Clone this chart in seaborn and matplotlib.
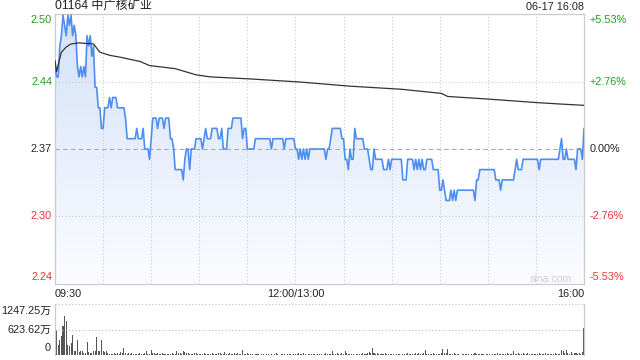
import numpy as np
import pandas as pd
import matplotlib
matplotlib.use("Agg")
import matplotlib.pyplot as plt
import seaborn as sns
from matplotlib.colors import LinearSegmentedColormap
from matplotlib.patches import Polygon

# ---------------- data ----------------
title = "01164 中广核矿业"
stamp = "06-17 16:08"
prev_close = 2.37
pct_levels = [5.53, 2.76, 0.00, -2.76, -5.53]
time_labels = ["09:30", "12:00/13:00", "16:00"]
time_label_minutes = [0, 150, 330]
vol_max = 1247.25
vol_tick_labels = ["1247.25万", "623.62万", "0"]

price = [
    2.45, 2.44, 2.44, 2.47, 2.48, 2.50, 2.49, 2.48, 2.50, 2.49,
    2.50, 2.48, 2.49, 2.48, 2.45, 2.44, 2.45, 2.44, 2.45, 2.44,
    2.48, 2.47, 2.48, 2.46, 2.47, 2.43, 2.43, 2.41, 2.41, 2.39,
    2.39, 2.41, 2.41, 2.41, 2.42, 2.41, 2.42, 2.42, 2.42, 2.41,
    2.41, 2.41, 2.41, 2.41, 2.40, 2.38, 2.38, 2.38, 2.38, 2.38,
    2.38, 2.39, 2.38, 2.38, 2.38, 2.39, 2.37, 2.37, 2.37, 2.36,
    2.38, 2.40, 2.40, 2.40, 2.39, 2.40, 2.40, 2.40, 2.39, 2.40,
    2.40, 2.40, 2.38, 2.38, 2.37, 2.35, 2.35, 2.35, 2.35, 2.35,
    2.34, 2.36, 2.37, 2.37, 2.35, 2.37, 2.37, 2.37, 2.38, 2.38,
    2.38, 2.38, 2.37, 2.38, 2.39, 2.38, 2.38, 2.38, 2.39, 2.39,
    2.39, 2.39, 2.38, 2.38, 2.39, 2.37, 2.37, 2.37, 2.39, 2.39,
    2.39, 2.40, 2.40, 2.40, 2.40, 2.40, 2.40, 2.38, 2.39, 2.39,
    2.37, 2.37, 2.37, 2.37, 2.37, 2.38, 2.38, 2.38, 2.38, 2.38,
    2.38, 2.38, 2.38, 2.38, 2.38, 2.37, 2.38, 2.38, 2.38, 2.38,
    2.38, 2.38, 2.38, 2.37, 2.38, 2.38, 2.38, 2.38, 2.38, 2.38,
    2.37, 2.37, 2.36, 2.37, 2.36, 2.37, 2.36, 2.37, 2.36, 2.37,
    2.37, 2.37, 2.37, 2.37, 2.37, 2.37, 2.37, 2.37, 2.37, 2.36,
    2.37, 2.37, 2.38, 2.39, 2.39, 2.39, 2.39, 2.39, 2.39, 2.38,
    2.38, 2.36, 2.36, 2.35, 2.37, 2.36, 2.36, 2.39, 2.38, 2.38,
    2.38, 2.38, 2.38, 2.37, 2.37, 2.37, 2.36, 2.35, 2.35, 2.37,
    2.36, 2.36, 2.36, 2.36, 2.36, 2.35, 2.35, 2.35, 2.36, 2.35,
    2.36, 2.36, 2.36, 2.36, 2.36, 2.36, 2.36, 2.34, 2.34, 2.34,
    2.36, 2.36, 2.36, 2.36, 2.35, 2.36, 2.35, 2.36, 2.35, 2.36,
    2.35, 2.35, 2.36, 2.36, 2.36, 2.36, 2.35, 2.35, 2.35, 2.35,
    2.33, 2.33, 2.34, 2.33, 2.32, 2.32, 2.32, 2.33, 2.32, 2.33,
    2.32, 2.33, 2.33, 2.33, 2.33, 2.33, 2.33, 2.33, 2.33, 2.33,
    2.33, 2.33, 2.32, 2.34, 2.34, 2.35, 2.35, 2.35, 2.35, 2.35,
    2.35, 2.35, 2.35, 2.35, 2.35, 2.34, 2.34, 2.34, 2.33, 2.34,
    2.34, 2.34, 2.34, 2.34, 2.34, 2.34, 2.34, 2.35, 2.36, 2.35,
    2.35, 2.35, 2.36, 2.36, 2.36, 2.36, 2.36, 2.36, 2.36, 2.36,
    2.36, 2.36, 2.35, 2.36, 2.36, 2.36, 2.36, 2.36, 2.36, 2.36,
    2.36, 2.36, 2.36, 2.36, 2.36, 2.37, 2.38, 2.36, 2.36, 2.37,
    2.36, 2.36, 2.36, 2.36, 2.36, 2.35, 2.37, 2.37, 2.37, 2.36,
    2.39,
]

avg_minutes = [0, 1, 2, 4, 7, 10, 15, 24, 28, 34, 41, 53, 59, 75, 88, 97,
               122, 153, 184, 216, 241, 245, 270, 301, 316, 330]
avg_price = [2.456, 2.445, 2.452, 2.464, 2.469, 2.472, 2.473, 2.472, 2.464,
             2.461, 2.459, 2.455, 2.451, 2.448, 2.442, 2.440, 2.438, 2.435,
             2.431, 2.428, 2.424, 2.421, 2.4185, 2.415, 2.4136, 2.4124]

volume = [
    1247, 620, 250, 370, 460, 700, 950, 830, 250, 210,
    290, 500, 110, 110, 360, 80, 110, 110, 60, 40,
    330, 80, 60, 40, 110, 110, 450, 110, 90, 370,
    90, 80, 100, 40, 30, 20, 30, 60, 20, 40,
    30, 70, 40, 160, 50, 30, 60, 20, 40, 30,
    20, 30, 20, 60, 20, 30, 40, 110, 30, 20,
    130, 40, 60, 30, 50, 20, 30, 40, 20, 30,
    20, 30, 20, 40, 30, 20, 90, 60, 40, 30,
    100, 70, 40, 60, 30, 20, 30, 40, 60, 30,
    20, 30, 20, 40, 20, 30, 20, 30, 40, 20,
    30, 20, 60, 40, 30, 20, 80, 30, 20, 40,
    30, 20, 40, 30, 50, 20, 30, 120, 20, 30,
    40, 20, 30, 20, 10, 20, 30, 20, 10, 20,
    20, 10, 30, 20, 10, 20, 10, 20, 40, 20,
    10, 20, 30, 20, 10, 20, 30, 20, 10, 20,
    30, 20, 40, 20, 30, 40, 20, 10, 20, 30,
    20, 30, 20, 10, 20, 30, 20, 10, 20, 40,
    20, 30, 20, 100, 30, 20, 40, 30, 20, 60,
    30, 90, 40, 30, 20, 30, 20, 10, 20, 30,
    20, 30, 40, 20, 30, 60, 80, 40, 170, 50,
    30, 40, 20, 30, 20, 30, 40, 20, 30, 20,
    30, 20, 10, 20, 30, 20, 10, 20, 30, 20,
    40, 20, 30, 20, 30, 60, 30, 40, 20, 30,
    40, 130, 30, 20, 30, 20, 40, 20, 30, 20,
    30, 40, 150, 60, 40, 140, 30, 20, 30, 40,
    20, 30, 20, 10, 20, 30, 20, 30, 20, 10,
    20, 30, 40, 20, 30, 20, 30, 20, 10, 20,
    30, 20, 10, 20, 30, 20, 40, 20, 30, 20,
    30, 20, 40, 20, 30, 20, 90, 30, 20, 40,
    30, 20, 40, 20, 30, 40, 20, 30, 20, 30,
    20, 30, 40, 20, 30, 20, 40, 30, 20, 30,
    20, 30, 40, 20, 30, 20, 130, 110, 60, 120,
    40, 30, 70, 20, 40, 60, 30, 50, 20, 80,
    665,
]

# ---------------- figure ----------------
sns.set_theme(style="white")
plt.rcParams["font.family"] = ["Liberation Sans", "Noto Sans CJK SC", "DejaVu Sans"]

W, H = 640, 360
fig = plt.figure(figsize=(6.4, 3.6), dpi=100)
fig.patch.set_facecolor("white")

L, R = 55, 584
ax = fig.add_axes([L / W, 1 - 284 / H, (R - L) / W, 270 / H])
axv = fig.add_axes([L / W, 1 - 355 / H, (R - L) / W, 51 / H])

minutes = np.arange(len(price))
df = pd.DataFrame({"minute": minutes, "price": price})
davg = pd.DataFrame({"minute": avg_minutes, "avg": avg_price})
dvol = pd.DataFrame({"minute": np.arange(len(volume)), "vol": volume})

ylo = prev_close * (1 - pct_levels[0] / 100)
yhi = prev_close * (1 + pct_levels[0] / 100)
xmax = time_label_minutes[-1]

# gradient fill under price line
cmap = LinearSegmentedColormap.from_list("g", ["#fbfcff", "#d3e2f8"])
grad = np.linspace(0, 1, 256).reshape(-1, 1)
im = ax.imshow(grad, extent=[0, xmax, ylo, yhi], origin="lower", aspect="auto",
               cmap=cmap, zorder=1)
verts = np.column_stack([np.r_[df["minute"], df["minute"][::-1]],
                         np.r_[df["price"], np.full(len(df), ylo)]])
poly = Polygon(verts, closed=True, facecolor="none", edgecolor="none",
               transform=ax.transData)
ax.add_patch(poly)
im.set_clip_path(poly)

# grid
for m in range(30, xmax, 30):
    ax.axvline(m, color="#cccccc", lw=0.8, ls=(0, (1, 2)), zorder=2)
for p in pct_levels[1:-1]:
    lvl = prev_close * (1 + p / 100)
    if p == 0:
        ax.axhline(lvl, color="#aaaaaa", lw=0.8, ls=(0, (4, 3)), zorder=2)
    else:
        ax.axhline(lvl, color="#cccccc", lw=0.8, ls=(0, (1, 2)), zorder=2)

sns.lineplot(data=df, x="minute", y="price", ax=ax, color="#4f8ef0", lw=1.2,
             estimator=None, zorder=4)
sns.lineplot(data=davg, x="minute", y="avg", ax=ax, color="#333333", lw=0.9,
             estimator=None, zorder=5)

ax.set_xlim(0, xmax)
ax.set_ylim(ylo, yhi)
ax.set_xticks([])
ax.set_yticks([])
ax.set_xlabel("")
ax.set_ylabel("")
for s in ax.spines.values():
    s.set_color("#cccccc")
    s.set_linewidth(0.9)

green, red, dark = "#1f9f1f", "#ee3333", "#222222"
fs = 7.8
n = len(pct_levels)
for i, p in enumerate(pct_levels):
    lvl = prev_close * (1 + p / 100)
    col = green if p > 0 else (red if p < 0 else dark)
    off = 6 if i == 0 else (-7 if i == n - 1 else 0)
    yfrac = (lvl - ylo) / (yhi - ylo)
    ypx = 284 - yfrac * 270 + off
    fy = 1 - ypx / H
    fig.text((L - 3) / W, fy, f"{lvl:.2f}", ha="right", va="center",
             color=col, fontsize=fs)
    lab = "0.00%" if p == 0 else f"{p:+.2f}%"
    fig.text((R + 6) / W, fy, lab, ha="left", va="center", color=col, fontsize=fs)

# time labels
for lab, m in zip(time_labels, time_label_minutes):
    xpx = L + m / xmax * (R - L)
    ha = "left" if m == 0 else ("right" if m == xmax else "center")
    fig.text(xpx / W, 1 - 294 / H, lab, ha=ha, va="center", color=dark, fontsize=fs)

fig.text(L / W, 1 - 7 / H, title, ha="left", va="center", color=dark, fontsize=8.7)
fig.text(R / W, 1 - 7 / H, stamp, ha="right", va="center", color=dark, fontsize=7.8)
fig.text(551 / W, 1 - 279 / H, "sina.com", ha="center", va="center",
         color="#cfcfcf", fontsize=7.6)

# volume panel
axv.bar(dvol["minute"], dvol["vol"], width=0.65, color="#555555", linewidth=0)
axv.axhline(vol_max, color="#bbbbbb", lw=0.8, ls=(0, (1, 2)))
axv.axhline(vol_max / 2, color="#bbbbbb", lw=0.8, ls=(0, (1, 2)))
axv.set_xlim(0, xmax)
axv.set_ylim(0, vol_max)
axv.set_xticks([])
axv.set_yticks([])
for k, s in axv.spines.items():
    if k in ("right", "left"):
        s.set_color("#cccccc")
        s.set_linewidth(0.9)
    else:
        s.set_visible(False)

for lab, ypx in zip(vol_tick_labels, [311, 330, 348]):
    fig.text((L - 4) / W, 1 - ypx / H, lab, ha="right", va="center",
             color=dark, fontsize=fs)

fig.savefig("out.png", dpi=100, facecolor="white")
